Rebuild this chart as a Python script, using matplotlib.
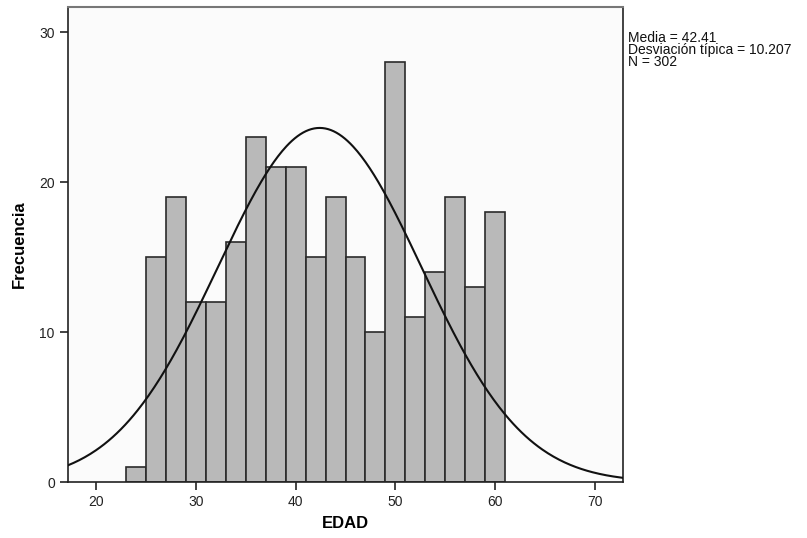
import numpy as np
import matplotlib
matplotlib.use("Agg")
import matplotlib.pyplot as plt

plt.rcParams['font.family'] = ['Liberation Sans', 'DejaVu Sans']

# Age histogram (bin width 2 years)
bin_edges = [23, 25, 27, 29, 31, 33, 35, 37, 39, 41, 43, 45, 47, 49, 51, 53, 55, 57, 59, 61]
counts = [1, 15, 19, 12, 12, 16, 23, 21, 21, 15, 19, 15, 10, 28, 11, 14, 19, 13, 18]
mean = 42.41
std = 10.207
n = 302
x_ticks = [20, 30, 40, 50, 60, 70]
y_ticks = [0, 10, 20, 30]

fig = plt.figure(figsize=(8.07, 5.38), dpi=100)
ax = fig.add_axes([0.0843, 0.104, 0.6877, 0.883])
ax.set_facecolor('#fbfbfb')

lefts = np.array(bin_edges[:-1])
widths = np.diff(bin_edges)
ax.bar(lefts, counts, width=widths, align='edge', color='#b9b9b9',
       edgecolor='#2b2b2b', linewidth=1.2, zorder=2)

# Fitted normal curve scaled to counts per bin
xlim = (17.2, 72.8)
xs = np.linspace(xlim[0], xlim[1], 400)
bw = widths[0]
ys = n * bw / (std * np.sqrt(2 * np.pi)) * np.exp(-0.5 * ((xs - mean) / std) ** 2)
ax.plot(xs, ys, color='#111111', linewidth=1.5, zorder=3)

ax.set_xlim(*xlim)
ax.set_ylim(0, 31.67)
ax.set_xticks(x_ticks)
ax.set_yticks(y_ticks)
ax.tick_params(axis='both', direction='out', length=6, width=1.2,
               labelsize=10, colors='#222222', top=False, right=False)
for side in ['left', 'bottom', 'right']:
    ax.spines[side].set_color('#222222')
    ax.spines[side].set_linewidth(1.2)
ax.spines['top'].set_color('#777777')
ax.spines['top'].set_linewidth(1.5)

ax.set_xlabel('EDAD', fontsize=12, fontweight='bold', labelpad=5)
ax.set_ylabel('Frecuencia', fontsize=12, fontweight='bold', labelpad=9)

fig.text(0.778, 0.943,
         f'Media = {mean:.2f}\nDesviación típica = {std:.3f}\nN = {n}',
         fontsize=10, va='top', ha='left', linespacing=0.85, color='#111111')

fig.savefig('out.png', dpi=100)
